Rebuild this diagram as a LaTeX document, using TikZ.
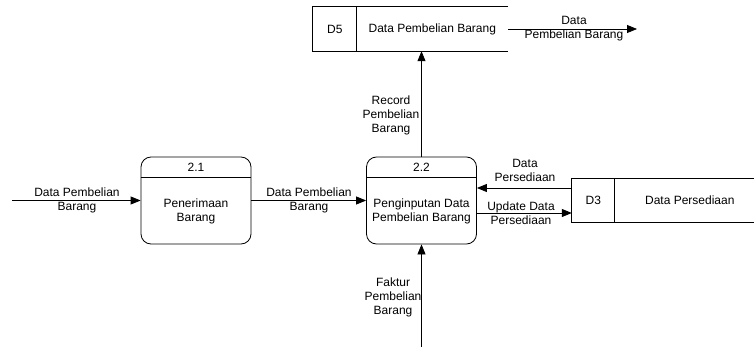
\documentclass[tikz,border=0pt]{standalone}
\usepackage{fontspec}
\setmainfont{Liberation Sans}
\usetikzlibrary{arrows.meta,calc}
\begin{document}
\begin{tikzpicture}[x=1pt,y=-1pt,
  every node/.style={font=\fontsize{12}{14}\selectfont, inner sep=0pt},
  proc/.style={draw, line width=0.8pt, rounded corners=10pt,
    minimum width=110pt, minimum height=87pt},
  storebox/.style={minimum width=#1, minimum height=44pt},
  edge/.style={line width=0.8pt},
  flow/.style={line width=0.8pt, -{Triangle[length=10pt,width=8pt]}},
  lbl/.style={align=center}
]
\useasboundingbox (0,0) rectangle (754,347);

% processes (shifts are in canvas points, up is positive)
\node[proc] (p21) at (196,200.5) {};
\node[proc] (p22) at (421.5,200.5) {};
\foreach \p/\n in {p21/2.1, p22/2.2}{
  \draw[edge] ([yshift=-21pt]\p.north west) -- ([yshift=-21pt]\p.north east);
  \node (\p num) at ([yshift=-10.5pt]\p.north) {\n};
}
\node[lbl] (p21txt) at ([yshift=33pt]p21.south) {Penerimaan\\Barang};
\node[lbl] (p22txt) at ([yshift=33pt]p22.south) {Penginputan Data\\Pembelian Barang};

% data store D5
\node[storebox=195pt] (d5) at (410.5,29) {};
\draw[edge] (d5.north east) -- (d5.north west) -- (d5.south west) -- (d5.south east);
\draw[edge] ([xshift=44pt]d5.north west) -- ([xshift=44pt]d5.south west);
\node (d5id) at ([xshift=22pt]d5.west) {D5};
\node (d5name) at ([xshift=119.5pt]d5.west) {Data Pembelian Barang};

% data store D3
\node[storebox=182pt, minimum height=43pt] (d3) at (663,200.5) {};
\draw[edge] (d3.north east) -- (d3.north west) -- (d3.south west) -- (d3.south east);
\draw[edge] ([xshift=43pt]d3.north west) -- ([xshift=43pt]d3.south west);
\node (d3id) at ([xshift=21.5pt]d3.west) {D3};
\node (d3name) at ([xshift=118pt]d3.west) {Data Persediaan};

% free ends
\coordinate (src) at (12,200.5);
\coordinate (out) at (637,29);
\coordinate (faktur) at (421.5,347);

% flows
\draw[flow] (src) -- (p21.west);
\node[lbl] (l1) at (77,200.5) {Data Pembelian\\Barang};

\draw[flow] (p21.east) -- (p22.west);
\node[lbl] (l2) at (309,200.5) {Data Pembelian\\Barang};

\draw[flow] (p22.north) -- (p22.north |- d5.south);
\node[lbl] (l3) at (391,115) {Record\\Pembelian\\Barang};

\draw[flow] (d5.east) -- (out);
\node[lbl] (l4) at (574,28.5) {Data\\Pembelian Barang};

\draw[flow] ([yshift=12.5pt]d3.west) -- ([yshift=12.5pt]d3.west -| p22.east);
\node[lbl] (l5) at (525,170) {Data\\Persediaan};

\draw[flow] ([yshift=-12.5pt]d3.west -| p22.east) -- ([yshift=-12.5pt]d3.west);
\node[lbl] (l6) at (521,213.5) {Update Data\\Persediaan};

\draw[flow] (faktur) -- (p22.south);
\node[lbl] (l7) at (393,297) {Faktur\\Pembelian\\Barang};
\end{tikzpicture}
\end{document}
